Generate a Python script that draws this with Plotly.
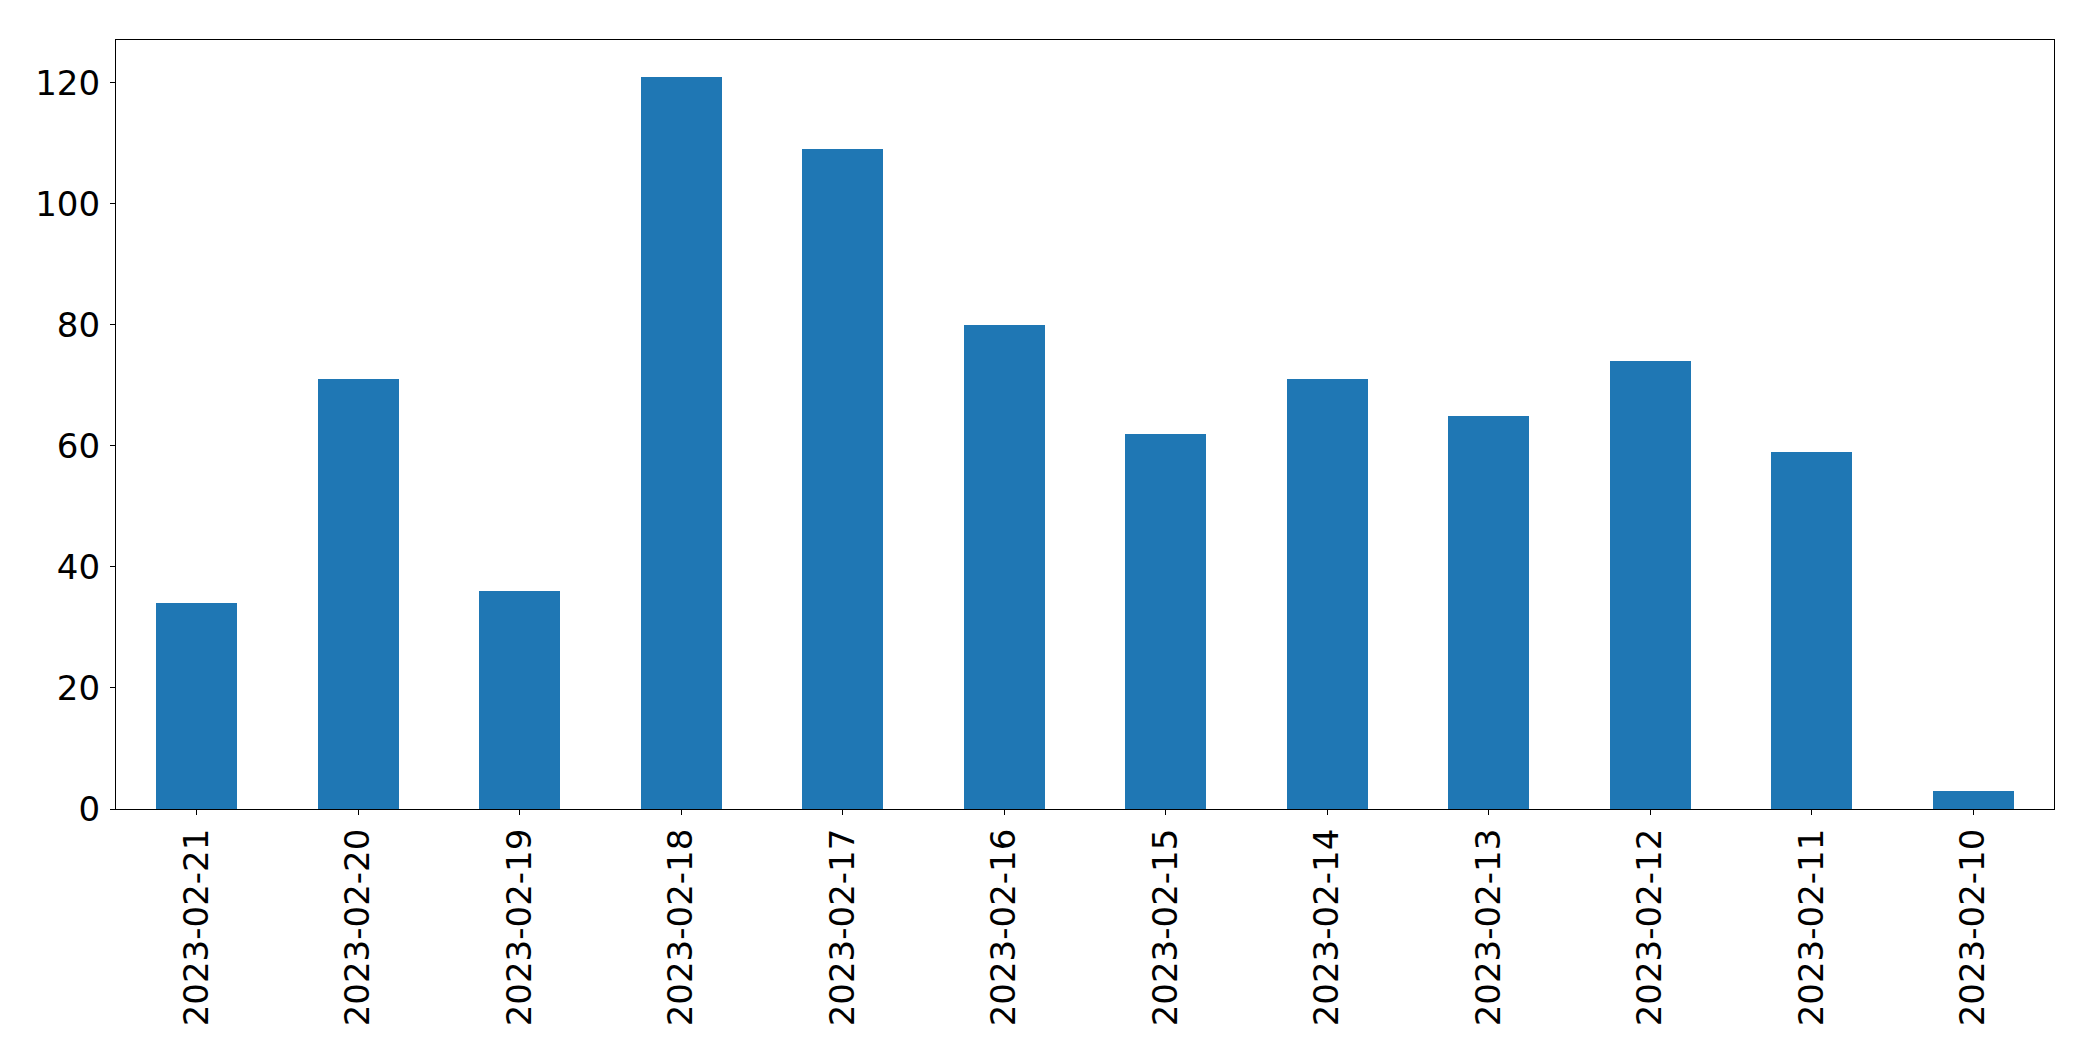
import plotly.graph_objects as go

dates = ["2023-02-21", "2023-02-20", "2023-02-19", "2023-02-18", "2023-02-17", "2023-02-16",
         "2023-02-15", "2023-02-14", "2023-02-13", "2023-02-12", "2023-02-11", "2023-02-10"]
counts = [34, 71, 36, 121, 109, 80, 62, 71, 65, 74, 59, 3]
y_ticks = [0, 20, 40, 60, 80, 100, 120]

fig = go.Figure()
fig.add_trace(go.Bar(x=dates, y=counts, marker=dict(color="#1f77b4", line=dict(width=0)), width=0.5))

font = dict(family="DejaVu Sans", size=34, color="black")
fig.update_layout(
    width=2093, height=1061,
    margin=dict(l=116, r=39, t=40, b=252),
    paper_bgcolor="white", plot_bgcolor="white",
    showlegend=False, font=font, bargap=0,
)
fig.update_xaxes(
    type="category", range=[-0.5, len(dates) - 0.5],
    showline=True, linecolor="black", linewidth=1.2, mirror=True,
    ticks="outside", ticklen=5, tickwidth=1.2, tickcolor="black",
    tickangle=-90, tickfont=font, showgrid=False, ticklabelstandoff=0,
)
fig.update_yaxes(
    range=[0, 127.05], tickvals=y_ticks,
    showline=True, linecolor="black", linewidth=1.2, mirror=True,
    ticks="outside", ticklen=5, tickwidth=1.2, tickcolor="black",
    tickfont=font, showgrid=False, zeroline=False, ticklabelstandoff=3,
)
fig.write_html("out.html")
